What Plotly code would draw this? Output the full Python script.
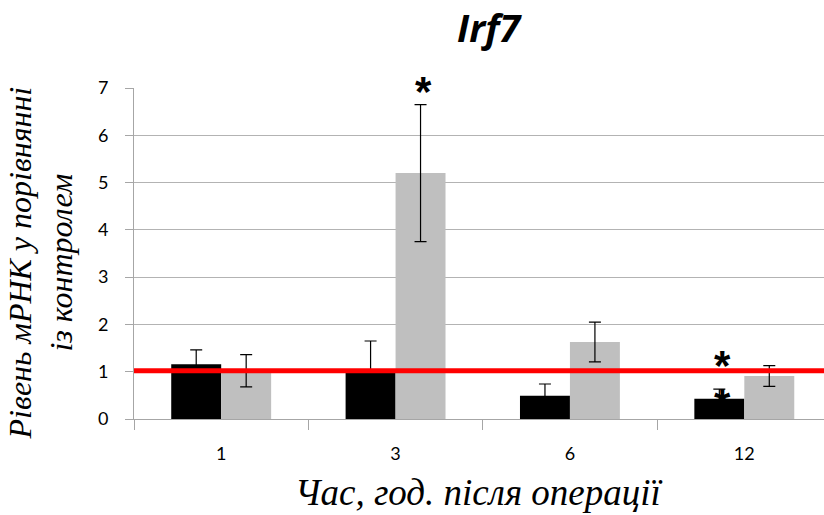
import plotly.graph_objects as go

categories = ["1", "3", "6", "12"]
black_vals = [1.16, 1.0, 0.49, 0.43]
black_err = [0.30, 0.65, 0.25, 0.20]
grey_vals = [1.02, 5.2, 1.63, 0.91]
grey_err = [0.34, 1.45, 0.42, 0.22]
ref_level = 1.02
# significance marks: (category index, series, y position)
star_cat = [1, 3, 3]
star_series = ["grey", "black", "black"]
star_y = [7.1, 1.31, 0.5]

yticks = [0, 1, 2, 3, 4, 5, 6, 7]
YMAX = 7

BARGAP = 0.427
half = (1 - BARGAP) / 4
SERIF = "Liberation Serif"

fig = go.Figure()
fig.add_trace(go.Bar(
    x=categories, y=black_vals, marker_color="#000000", marker_line_width=0,
    error_y=dict(type="data", array=black_err, color="#000000", thickness=1.2, width=6),
    name="a"))
fig.add_trace(go.Bar(
    x=categories, y=grey_vals, marker_color="#bfbfbf", marker_line_width=0,
    error_y=dict(type="data", array=grey_err, color="#000000", thickness=1.2, width=6),
    name="b"))

fig.add_shape(type="line", xref="paper", x0=0, x1=1, yref="y", y0=ref_level, y1=ref_level,
              line=dict(color="#ff0000", width=5), layer="above")

for c, s, yv in zip(star_cat, star_series, star_y):
    off = -half if s == "black" else half
    fig.add_annotation(x=c + off, y=yv / YMAX, xref="x", yref="paper", text="<b>*</b>",
                       showarrow=False,
                       font=dict(family="Liberation Sans", size=42, color="#000000"),
                       yanchor="middle", yshift=-8, xshift=3)

fig.add_annotation(text="<b><i>Irf7</i></b>", xref="paper", yref="paper", x=0.5, y=1,
                   yanchor="bottom", yshift=33, xshift=10, showarrow=False,
                   font=dict(family="Open Sans", size=38, color="#000000"))
fig.add_annotation(text="<i>Рівень мРНК у порівнянні<br>із контролем</i>", textangle=-90,
                   xref="paper", yref="paper", x=0, y=0.47, xanchor="right", yanchor="middle",
                   xshift=-52, showarrow=False,
                   font=dict(family=SERIF, size=32, color="#000000"))
fig.add_annotation(text="<i>Час, год. після операції</i>", xref="paper", yref="paper",
                   x=0.5, y=0, yanchor="top", yshift=-51, showarrow=False,
                   font=dict(family=SERIF, size=37, color="#000000"))

fig.update_layout(
    width=824, height=515, margin=dict(l=134, r=0, t=88, b=96),
    plot_bgcolor="white", paper_bgcolor="white", showlegend=False,
    barmode="group", bargap=BARGAP, bargroupgap=0,
    xaxis=dict(type="category", range=[-0.5, 3.457], tickson="boundaries", ticks="outside",
               ticklen=10, tickcolor="#a6a6a6", showline=True, linecolor="#a6a6a6",
               showgrid=False, ticklabelstandoff=18,
               tickfont=dict(family="Lato", size=18, color="#000000")),
    yaxis=dict(range=[0, YMAX], tickvals=yticks, ticks="outside", ticklen=8, tickcolor="#a6a6a6",
               showline=True, linecolor="#a6a6a6", showgrid=True, gridcolor="#b3b3b3",
               gridwidth=1, zeroline=False, ticklabelstandoff=13,
               tickfont=dict(family="Lato", size=18, color="#000000")),
)

fig.write_html("out.html")
